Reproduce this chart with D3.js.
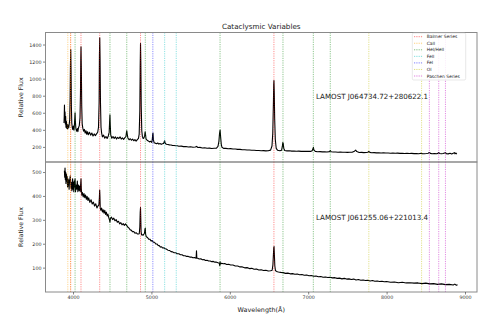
<!DOCTYPE html>
<html><head><meta charset="utf-8">
<script src="https://cdn.jsdelivr.net/npm/d3@7"></script>
<style>
body{margin:0;background:#fff}
svg{display:block}
text{font-family:"DejaVu Sans",sans-serif}
</style>
</head><body>
<svg id="chart" width="500" height="328"></svg>
<script>
// Spectral line rest wavelengths (Å), grouped by species
const balmerLines  = [3970.1, 4101.7, 4340.5, 4861.3, 6562.8];
const caIILines    = [3933.7, 3968.5];
const heLines      = [4026.2, 4471.5, 4685.7, 4921.9, 5875.6, 6678.2, 7065.2, 7281.4];
const feIILines    = [5169.0, 5316.6];
const feILines     = [5018.4];
const oILines      = [7773.4, 8446.4];
const paschenLines = [8545.4, 8665.0, 8750.5];

const seriesNames  = ["Balmer Series", "CaII", "HeI/HeII", "FeII", "FeI", "OI", "Paschen Series"];
const seriesColors = ["#ff0000", "#ffa500", "#008000", "#00bfbf", "#0000ff", "#bfbf00", "#bf00bf"];

const xTicks     = [4000, 5000, 6000, 7000, 8000, 9000];
const yTicksTop  = [200, 400, 600, 800, 1000, 1200, 1400];
const yTicksBot  = [100, 200, 300, 400, 500];
const nameTop    = "LAMOST J064734.72+280622.1";
const nameBot    = "LAMOST J061255.06+221013.4";

// [wavelength Å, relative flux]
const spectrumTop = [
[3885,480],[3888,560],[3891,690],[3894,520],[3898,610],[3902,470],[3906,560],[3910,430],[3915,500],[3920,420],
[3926,465],[3932,410],[3938,455],[3945,425],[3952,470],[3958,520],[3963,760],[3967,1150],[3971,1341],[3975,1080],
[3979,680],[3984,480],[3990,430],[3996,405],[4005,445],[4012,395],[4018,460],[4023,540],[4026,600],[4030,500],
[4036,420],[4045,385],[4055,415],[4062,378],[4070,425],[4080,450],[4089,540],[4095,820],[4099,1240],[4102,1372],
[4106,1130],[4111,680],[4117,470],[4125,420],[4135,385],[4145,405],[4155,362],[4165,390],[4175,348],[4185,378],
[4195,342],[4210,372],[4225,338],[4240,362],[4255,328],[4270,352],[4285,332],[4300,352],[4315,372],[4325,430],
[4333,720],[4337,1280],[4341,1478],[4345,1230],[4350,730],[4357,430],[4365,362],[4375,318],[4390,338],[4405,302],
[4420,322],[4435,298],[4450,328],[4461,370],[4467,500],[4471,575],[4475,460],[4481,340],[4495,302],[4510,322],
[4525,298],[4540,318],[4555,292],[4570,312],[4585,298],[4600,318],[4615,292],[4630,306],[4645,288],[4660,306],
[4675,322],[4682,370],[4686,390],[4691,350],[4700,305],[4715,283],[4730,296],[4745,278],[4760,292],[4775,272],
[4790,286],[4805,268],[4820,286],[4835,300],[4844,350],[4852,620],[4857,1150],[4861,1412],[4865,1180],[4870,680],
[4877,390],[4885,320],[4895,298],[4905,306],[4914,335],[4920,378],[4925,345],[4931,295],[4945,278],[4960,270],
[4975,258],[4990,266],[5005,252],[5012,295],[5017,355],[5020,362],[5025,285],[5035,248],[5050,244],[5065,238],
[5080,246],[5095,233],[5110,239],[5125,230],[5140,237],[5155,240],[5164,262],[5169,271],[5175,245],[5190,231],
[5210,229],[5230,224],[5250,223],[5270,216],[5290,217],[5310,213],[5330,214],[5350,208],[5380,209],[5410,203],
[5440,205],[5470,199],[5500,201],[5530,196],[5560,198],[5577,206],[5590,193],[5620,194],[5650,188],[5680,190],
[5710,184],[5740,186],[5770,181],[5800,184],[5830,185],[5849,205],[5861,265],[5869,360],[5876,398],[5883,315],
[5891,230],[5900,195],[5920,183],[5950,183],[5980,179],[6010,180],[6040,175],[6070,175],[6100,171],[6130,171],
[6160,166],[6190,167],[6220,163],[6250,164],[6280,160],[6310,161],[6340,157],[6370,158],[6400,155],[6430,156],
[6460,153],[6490,155],[6520,162],[6538,210],[6548,360],[6556,710],[6560,930],[6563,979],[6567,840],[6572,540],
[6580,290],[6592,182],[6610,160],[6640,155],[6660,160],[6670,205],[6676,250],[6681,242],[6688,185],[6700,158],
[6730,153],[6760,154],[6790,151],[6820,152],[6850,149],[6880,151],[6910,148],[6940,149],[6970,147],[7000,148],
[7030,147],[7050,155],[7061,178],[7066,195],[7072,165],[7090,148],[7120,144],[7150,145],[7180,142],[7210,144],
[7240,141],[7270,145],[7282,158],[7292,144],[7320,140],[7350,141],[7380,138],[7410,139],[7440,137],[7470,138],
[7500,136],[7530,137],[7560,138],[7590,150],[7605,162],[7620,145],[7650,135],[7680,136],[7710,133],[7740,135],
[7760,137],[7773,146],[7786,136],[7810,132],[7840,133],[7870,130],[7900,131],[7930,129],[7960,130],[7990,128],
[8020,129],[8050,126],[8080,128],[8110,125],[8140,127],[8170,124],[8200,126],[8230,123],[8260,125],[8290,122],
[8320,124],[8350,121],[8380,123],[8410,120],[8440,125],[8455,121],[8480,119],[8510,122],[8530,126],[8545,135],
[8558,124],[8580,119],[8610,123],[8640,119],[8655,126],[8665,134],[8676,123],[8700,119],[8720,123],[8740,128],
[8750,134],[8762,121],[8785,118],[8810,125],[8830,117],[8850,126],[8865,133],[8872,119],[8885,128],[8895,116]
];

const spectrumBot = [
[3890,505],[3894,478],[3898,517],[3902,468],[3906,500],[3910,452],[3915,492],[3920,462],[3925,482],[3930,438],
[3935,472],[3940,442],[3945,466],[3950,428],[3955,462],[3960,472],[3965,484],[3970,458],[3975,432],[3980,456],
[3985,422],[3990,452],[3995,472],[4000,428],[4005,456],[4010,418],[4015,462],[4020,438],[4026,472],[4032,418],
[4040,446],[4048,428],[4055,462],[4062,418],[4070,446],[4078,423],[4085,441],[4092,418],[4098,452],[4102,472],
[4106,430],[4112,403],[4120,414],[4130,396],[4140,410],[4150,393],[4160,404],[4170,386],[4180,398],[4190,381],
[4200,392],[4215,373],[4230,384],[4245,366],[4260,374],[4275,358],[4290,367],[4305,350],[4320,359],[4330,362],
[4336,390],[4340,425],[4343,400],[4347,350],[4355,340],[4365,349],[4375,333],[4385,342],[4395,328],[4405,340],
[4415,323],[4425,332],[4435,316],[4445,324],[4455,310],[4465,300],[4471,290],[4477,306],[4490,311],[4505,301],
[4520,307],[4535,296],[4550,301],[4565,290],[4580,294],[4595,283],[4610,288],[4625,279],[4640,284],[4655,277],
[4670,283],[4686,276],[4700,269],[4715,265],[4730,258],[4745,256],[4760,250],[4775,251],[4790,244],[4805,246],
[4820,241],[4835,241],[4845,242],[4852,270],[4857,330],[4861,351],[4864,310],[4868,250],[4875,237],[4885,237],
[4895,236],[4905,241],[4912,245],[4918,262],[4922,265],[4926,240],[4935,229],[4950,226],[4965,219],[4980,219],
[4995,212],[5010,213],[5025,206],[5040,206],[5055,199],[5070,199],[5085,193],[5100,192],[5115,186],[5130,187],
[5145,182],[5160,183],[5175,179],[5190,178],[5210,173],[5230,172],[5250,167],[5270,166],[5290,162],[5310,162],
[5330,158],[5350,158],[5370,154],[5390,154],[5410,150],[5430,150],[5450,147],[5470,147],[5490,144],[5510,144],
[5530,141],[5550,142],[5570,139],[5575,170],[5579,140],[5590,139],[5610,136],[5630,137],[5650,133],[5670,134],
[5690,130],[5710,131],[5730,128],[5750,128],[5770,125],[5790,126],[5810,123],[5830,123],[5850,120],[5866,118],
[5872,108],[5876,124],[5882,115],[5895,118],[5915,116],[5935,117],[5960,113],[5985,114],[6010,111],[6040,111],
[6070,107],[6100,107],[6130,103],[6160,103],[6190,99],[6220,100],[6250,96],[6280,97],[6310,93],[6340,94],
[6370,90],[6400,91],[6430,88],[6460,89],[6490,86],[6520,87],[6540,89],[6550,112],[6557,160],[6561,185],
[6564,188],[6568,158],[6574,108],[6582,88],[6595,84],[6620,82],[6650,80],[6680,79],[6710,76],[6740,77],
[6770,74],[6800,75],[6830,72],[6860,73],[6890,70],[6920,71],[6950,68],[6980,69],[7010,66],[7040,67],
[7070,64],[7100,65],[7130,62],[7160,63],[7190,60],[7220,61],[7250,59],[7280,60],[7310,57],[7340,58],
[7370,55],[7400,56],[7430,53],[7460,55],[7490,52],[7520,53],[7550,50],[7580,52],[7610,48],[7640,50],
[7670,47],[7700,48],[7730,46],[7760,47],[7790,44],[7820,46],[7850,43],[7880,44],[7910,42],[7940,43],
[7970,41],[8000,42],[8050,39],[8100,40],[8150,37],[8200,39],[8250,36],[8300,37],[8350,35],[8400,36],
[8450,33],[8500,35],[8550,32],[8600,33],[8650,30],[8700,32],[8750,29],[8800,30],[8850,27],[8870,31],
[8890,26],[8905,28]
];

// Panel frames (px) and axis extents
const plotLeft = 45.5, plotRight = 477;
const panels = [
  {top: 32.5, bottom: 162, domain: [23, 1541], ticks: yTicksTop, data: spectrumTop, name: nameTop, nameY: 98.5},
  {top: 162, bottom: 292, domain: [-2, 542], ticks: yTicksBot, data: spectrumBot, name: nameBot, nameY: 220}
];
const lineGroups = [balmerLines, caIILines, heLines, feIILines, feILines, oILines, paschenLines];

const svg = d3.select("#chart");
const x = d3.scaleLinear().domain([3649, 9153]).range([plotLeft, plotRight]);

panels.forEach((p, i) => {
  const y = d3.scaleLinear().domain(p.domain).range([p.bottom, p.top]);
  const clipId = "clip" + i;
  svg.append("clipPath").attr("id", clipId)
    .append("rect").attr("x", plotLeft).attr("y", p.top)
    .attr("width", plotRight - plotLeft).attr("height", p.bottom - p.top);

  const g = svg.append("g").attr("clip-path", `url(#${clipId})`);

  const line = d3.line().x(d => x(d[0])).y(d => y(d[1]));
  g.append("path").datum(p.data)
    .attr("d", line).attr("fill", "none")
    .attr("stroke", "#000").attr("stroke-width", 1.1).attr("stroke-linejoin", "round");

  // dotted markers for each line species, drawn above the spectrum
  lineGroups.forEach((grp, k) => {
    g.selectAll(null).data(grp).enter().append("line")
      .attr("x1", d => x(d)).attr("x2", d => x(d))
      .attr("y1", p.top).attr("y2", p.bottom)
      .attr("stroke", seriesColors[k]).attr("stroke-opacity", 0.45)
      .attr("stroke-width", 1).attr("stroke-dasharray", "1.2,1.1");
  });

  // y axis
  const ay = svg.append("g").attr("transform", `translate(${plotLeft},0)`)
    .call(d3.axisLeft(y).tickValues(p.ticks).tickSize(2.5).tickPadding(1.5).tickFormat(d3.format("d")));
  ay.select(".domain").remove();
  ay.selectAll(".tick line").attr("stroke", "#333").attr("stroke-width", 0.6);
  ay.selectAll(".tick text").attr("font-size", 4.8).attr("fill", "#333")
    .attr("font-family", "DejaVu Sans");

  svg.append("text").attr("transform", `translate(21,${(p.top + p.bottom) / 2}) rotate(-90)`)
    .attr("text-anchor", "middle").attr("dy", "0.35em")
    .attr("font-size", 6.2).attr("fill", "#222").text("Relative Flux");

  svg.append("text").attr("x", 316).attr("y", p.nameY)
    .attr("font-size", 7.1).attr("fill", "#222").text(p.name);

  svg.append("rect").attr("x", plotLeft).attr("y", p.top)
    .attr("width", plotRight - plotLeft).attr("height", p.bottom - p.top)
    .attr("fill", "none").attr("stroke", "#8a8a8a").attr("stroke-width", 1);

  if (i === 1) {
    const ax = svg.append("g").attr("transform", `translate(0,${p.bottom})`)
      .call(d3.axisBottom(x).tickValues(xTicks).tickSize(2.5).tickPadding(1.5).tickFormat(d3.format("d")));
    ax.select(".domain").remove();
    ax.selectAll(".tick line").attr("stroke", "#333").attr("stroke-width", 0.6);
    ax.selectAll(".tick text").attr("font-size", 4.8).attr("fill", "#333")
      .attr("font-family", "DejaVu Sans");
  }
});

svg.append("text").attr("x", (plotLeft + plotRight) / 2).attr("y", 312)
  .attr("text-anchor", "middle").attr("font-size", 6.4).attr("fill", "#222")
  .text("Wavelength(Å)");

svg.append("text").attr("x", (plotLeft + plotRight) / 2).attr("y", 29)
  .attr("text-anchor", "middle").attr("font-size", 7.2).attr("fill", "#222")
  .text("Cataclysmic Variables");

// legend
const lg = svg.append("g");
lg.append("rect").attr("x", 412.3).attr("y", 33).attr("width", 53.4).attr("height", 47)
  .attr("rx", 1.5).attr("fill", "#fff").attr("fill-opacity", 0.85)
  .attr("stroke", "#d0d0d0").attr("stroke-width", 0.5);
seriesNames.forEach((name, k) => {
  const yy = 36.7 + k * 6.55;
  lg.append("line").attr("x1", 414).attr("x2", 422.7).attr("y1", yy).attr("y2", yy)
    .attr("stroke", seriesColors[k]).attr("stroke-opacity", 0.5)
    .attr("stroke-width", 1).attr("stroke-dasharray", "1.2,1.1");
  lg.append("text").attr("x", 426.7).attr("y", yy).attr("dy", "0.35em")
    .attr("font-size", 4.4).attr("fill", "#222").text(name);
});
</script>
</body></html>
